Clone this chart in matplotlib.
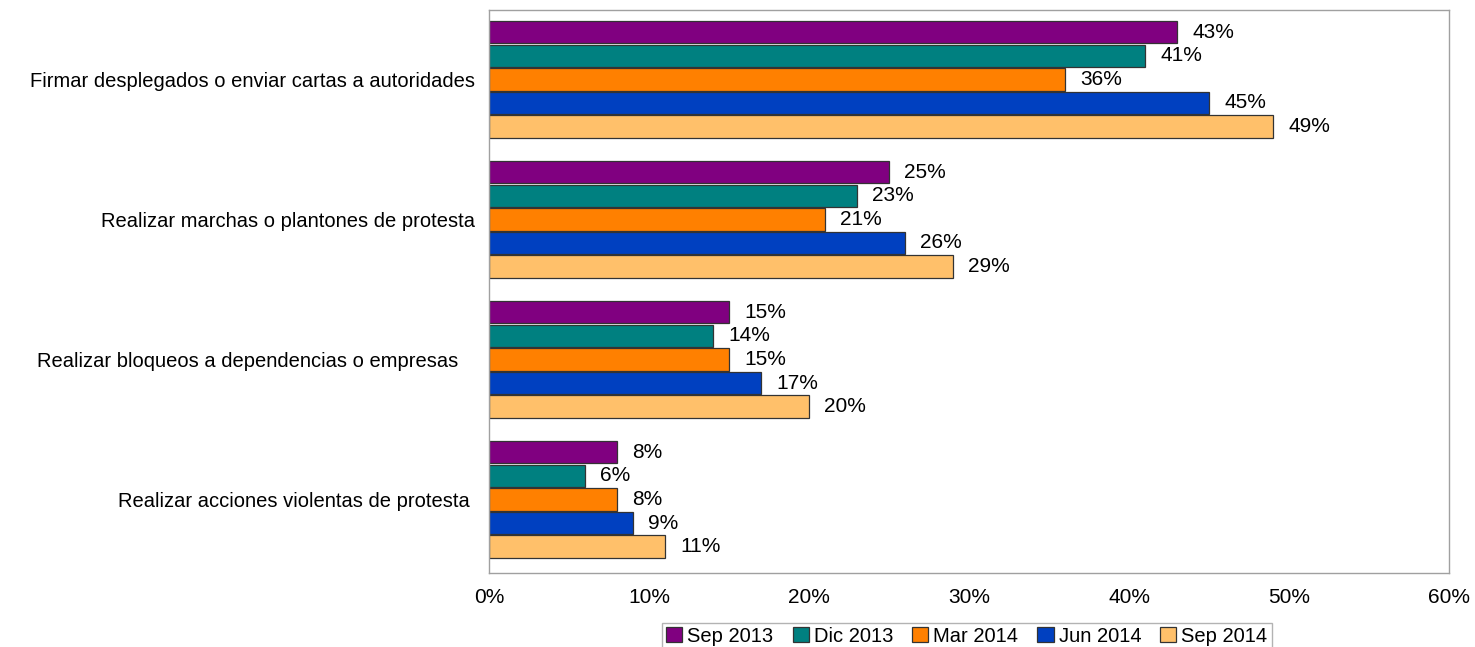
import numpy as np
import matplotlib.pyplot as plt

plt.rcParams['font.family'] = ['Liberation Sans', 'DejaVu Sans']

categories = [
    "Firmar desplegados o enviar cartas a autoridades",
    "Realizar marchas o plantones de protesta",
    "Realizar bloqueos a dependencias o empresas   ",
    "Realizar acciones violentas de protesta ",
]
series = ["Sep 2013", "Dic 2013", "Mar 2014", "Jun 2014", "Sep 2014"]
values = [
    [43, 25, 15, 8],   # Sep 2013
    [41, 23, 14, 6],   # Dic 2013
    [36, 21, 15, 8],   # Mar 2014
    [45, 26, 17, 9],   # Jun 2014
    [49, 29, 20, 11],  # Sep 2014
]
colors = ["#800080", "#008080", "#FF8000", "#0040C0", "#FFC06A"]

fig = plt.figure(figsize=(14.75, 6.47), dpi=100)
ax = fig.add_axes([0.3315, 0.1144, 0.651, 0.8701])

pitch = 0.1686
height = 0.16
y0 = np.arange(len(categories))
for i, (name, vals) in enumerate(zip(series, values)):
    ypos = y0 + (i - 2) * pitch
    bars = ax.barh(ypos, vals, height=height, color=colors[i],
                   edgecolor="#333333", linewidth=0.9, label=name)
    for b, v in zip(bars, vals):
        ax.text(v + 0.95, b.get_y() + b.get_height() / 2, f"{v}%",
                va="center", ha="left", fontsize=15)

ax.set_xlim(0, 60)
ax.set_ylim(3.525, -0.495)
ax.set_xticks(np.arange(0, 61, 10))
ax.set_xticklabels([f"{t}%" for t in range(0, 61, 10)], fontsize=15)
ax.set_yticks(y0)
ax.set_yticklabels(categories, fontsize=14.5)
ax.tick_params(axis="both", length=0)
ax.tick_params(axis="x", pad=11)
ax.tick_params(axis="y", pad=10)
for s in ax.spines.values():
    s.set_color("#A0A0A0")
    s.set_linewidth(1)

handles, labels = ax.get_legend_handles_labels()
leg = fig.legend(handles, labels, loc="lower center", ncol=5,
                 bbox_to_anchor=(0.6555, -0.004), fontsize=14.5,
                 frameon=True, fancybox=False, edgecolor="#A0A0A0",
                 handlelength=0.8, handleheight=0.7, handletextpad=0.25,
                 columnspacing=0.95, borderpad=0.2, borderaxespad=0)
leg.get_frame().set_linewidth(1)

fig.savefig("out.png", dpi=100)
